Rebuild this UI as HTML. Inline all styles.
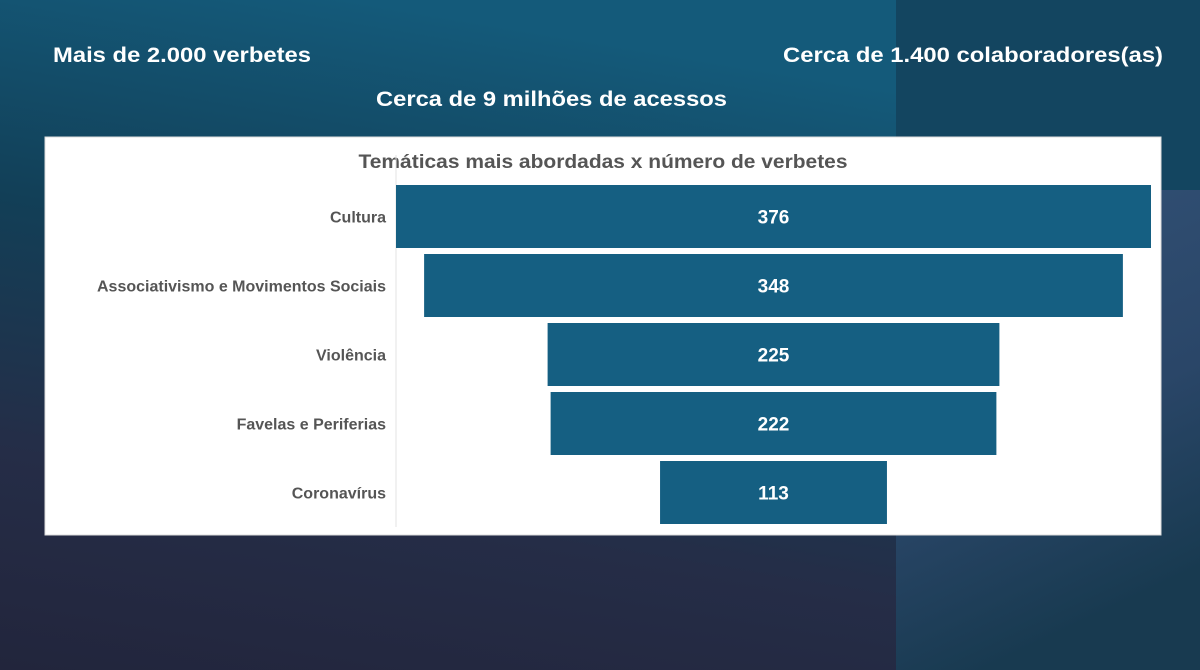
<!DOCTYPE html>
<html><head><meta charset="utf-8"><style>
html,body{margin:0;padding:0;width:1200px;height:670px;overflow:hidden}
svg{display:block;font-family:"Liberation Sans",sans-serif}
</style></head><body>
<svg width="1200" height="670" viewBox="0 0 1200 670">
<defs>
<linearGradient id="bgL" x1="0.3" y1="0" x2="0" y2="1">
<stop offset="0" stop-color="#145a7a"/><stop offset="0.35" stop-color="#123f57"/><stop offset="0.7" stop-color="#252d47"/><stop offset="1" stop-color="#22253c"/>
</linearGradient>
<linearGradient id="bgR" x1="0" y1="0" x2="0.3" y2="1">
<stop offset="0" stop-color="#335277"/><stop offset="0.6" stop-color="#2a4668"/><stop offset="1" stop-color="#183a50"/>
</linearGradient>
</defs>
<rect width="1200" height="670" fill="url(#bgL)"/>
<rect x="896" y="0" width="304" height="190" fill="#134560"/>
<rect x="896" y="190" width="304" height="480" fill="url(#bgR)"/>
<text x="53" y="62" fill="#fff" font-size="21" font-weight="bold" textLength="258" lengthAdjust="spacingAndGlyphs">Mais de 2.000 verbetes</text>
<text x="783" y="62" fill="#fff" font-size="21" font-weight="bold" textLength="380" lengthAdjust="spacingAndGlyphs">Cerca de 1.400 colaboradores(as)</text>
<text x="376" y="106" fill="#fff" font-size="21" font-weight="bold" textLength="351" lengthAdjust="spacingAndGlyphs">Cerca de 9 milhões de acessos</text>
<g id="chart">
<rect x="45" y="137" width="1116" height="398" fill="#fff" stroke="#dcdcdc"/>
<text x="603" y="168" fill="#555" font-size="19" font-weight="bold" text-anchor="middle" textLength="489" lengthAdjust="spacingAndGlyphs">Temáticas mais abordadas x número de verbetes</text>
<line x1="396" y1="155" x2="396" y2="527" stroke="#e3e3e3"/>
</g>
</svg>
<script>
const categories=["Cultura","Associativismo e Movimentos Sociais","Violência","Favelas e Periferias","Coronavírus"];
const values=[376,348,225,222,113];
const NS="http://www.w3.org/2000/svg";
const g=document.getElementById('chart');
const cx=773.5, pxPerUnit=755/376, top0=185, step=69, bh=63;
const xs=v=>v*pxPerUnit;
const yb=i=>top0+i*step;
categories.forEach((c,i)=>{
  const w=xs(values[i]);
  const r=document.createElementNS(NS,'rect');
  r.setAttribute('x',cx-w/2);r.setAttribute('y',yb(i));r.setAttribute('width',w);r.setAttribute('height',bh);
  r.setAttribute('fill','#155f82');
  
  
  g.appendChild(r);
  const t=document.createElementNS(NS,'text');
  t.setAttribute('x',cx);t.setAttribute('y',yb(i)+bh/2+7);t.setAttribute('fill','#fff');
  t.setAttribute('font-size','19');t.setAttribute('font-weight','bold');t.setAttribute('text-anchor','middle');
  t.textContent=values[i];
  
  
  g.appendChild(t);
  const l=document.createElementNS(NS,'text');
  l.setAttribute('x',386);l.setAttribute('y',yb(i)+bh/2+6);l.setAttribute('fill','#555');
  l.setAttribute('font-size','16');l.setAttribute('font-weight','bold');l.setAttribute('text-anchor','end');
  l.textContent=c;
  
  
  g.appendChild(l);
});
</script>
</body></html>
